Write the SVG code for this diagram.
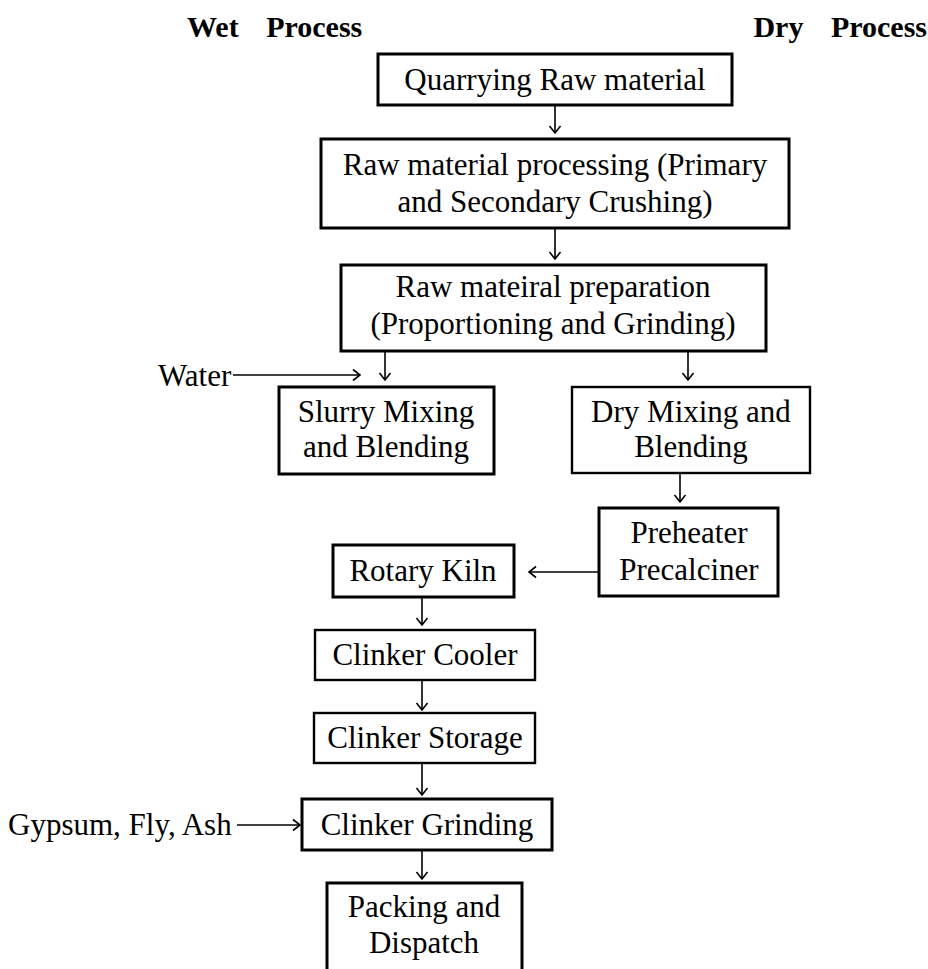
<svg xmlns="http://www.w3.org/2000/svg" width="928" height="969" viewBox="0 0 928 969">
<style>
  .bg{fill:#fff}
  .box{fill:#fff;stroke:#000;stroke-width:3}
  .thin{stroke-width:2.4}
  .t{font-family:"Liberation Serif","Times New Roman",serif;font-size:31px;fill:#000;text-anchor:middle}
  .l{text-anchor:start}
  .title{font-family:"Liberation Serif","Times New Roman",serif;font-size:30px;font-weight:bold;fill:#000;word-spacing:20px}
  .c{fill:none;stroke:#000;stroke-width:1.6;marker-end:url(#ah)}
</style>
<defs>
  <marker id="ah" markerUnits="userSpaceOnUse" markerWidth="14" markerHeight="14" viewBox="0 0 14 14" refX="12" refY="7" orient="auto">
    <path d="M5,1.5 L12,7 L5,12.5" fill="none" stroke="#000" stroke-width="1.6"/>
  </marker>
</defs>
<rect class="bg" x="0" y="0" width="928" height="969"/>

<text class="title" x="187" y="37">Wet Process</text>
<text class="title" x="927" y="37" text-anchor="end">Dry Process</text>

<g id="quarrying">
  <rect class="box" x="378" y="54" width="354" height="51"/>
  <text class="t" x="555" y="90">Quarrying Raw material</text>
</g>
<g id="processing">
  <rect class="box" x="321" y="139" width="468" height="89"/>
  <text class="t" x="555" y="175">Raw material processing (Primary</text>
  <text class="t" x="555" y="212">and Secondary Crushing)</text>
</g>
<g id="preparation">
  <rect class="box" x="341" y="265" width="425" height="86"/>
  <text class="t" x="553" y="297">Raw mateiral preparation</text>
  <text class="t" x="553" y="334">(Proportioning and Grinding)</text>
</g>
<g id="water">
  <text class="t l" x="158" y="386">Water</text>
</g>
<g id="slurry">
  <rect class="box" x="279" y="387" width="215" height="87"/>
  <text class="t" x="386" y="422">Slurry Mixing</text>
  <text class="t" x="386" y="457">and Blending</text>
</g>
<g id="drymixing">
  <rect class="box thin" x="572" y="387" width="238" height="86"/>
  <text class="t" x="691" y="422">Dry Mixing and</text>
  <text class="t" x="691" y="457">Blending</text>
</g>
<g id="preheater">
  <rect class="box" x="599" y="508" width="179" height="88"/>
  <text class="t" x="689" y="543">Preheater</text>
  <text class="t" x="689" y="580">Precalciner</text>
</g>
<g id="kiln">
  <rect class="box" x="333" y="545" width="181" height="52"/>
  <text class="t" x="423" y="581">Rotary Kiln</text>
</g>
<g id="cooler">
  <rect class="box thin" x="315" y="630" width="220" height="50"/>
  <text class="t" x="425" y="665">Clinker Cooler</text>
</g>
<g id="storage">
  <rect class="box thin" x="314" y="713" width="221" height="50"/>
  <text class="t" x="425" y="748">Clinker Storage</text>
</g>
<g id="gypsum">
  <text class="t l" x="8" y="835">Gypsum, Fly, Ash</text>
</g>
<g id="grinding">
  <rect class="box" x="302" y="799" width="250" height="51"/>
  <text class="t" x="427" y="835">Clinker Grinding</text>
</g>
<g id="packing">
  <rect class="box" x="327" y="883" width="195" height="95"/>
  <text class="t" x="424" y="917">Packing and</text>
  <text class="t" x="424" y="953">Dispatch</text>
</g>

<g id="connectors">
  <line class="c" x1="555" y1="105" x2="555" y2="133"/>
  <line class="c" x1="555" y1="228" x2="555" y2="259"/>
  <line class="c" x1="385" y1="351" x2="385" y2="380"/>
  <line class="c" x1="688" y1="351" x2="688" y2="380"/>
  <line class="c" x1="233" y1="375" x2="360" y2="375"/>
  <line class="c" x1="680" y1="473" x2="680" y2="502"/>
  <line class="c" x1="598" y1="572" x2="529" y2="572"/>
  <line class="c" x1="422" y1="597" x2="422" y2="625"/>
  <line class="c" x1="422" y1="680" x2="422" y2="710"/>
  <line class="c" x1="422" y1="763" x2="422" y2="795"/>
  <line class="c" x1="237" y1="825" x2="300" y2="825"/>
  <line class="c" x1="422" y1="850" x2="422" y2="879"/>
</g>
</svg>
